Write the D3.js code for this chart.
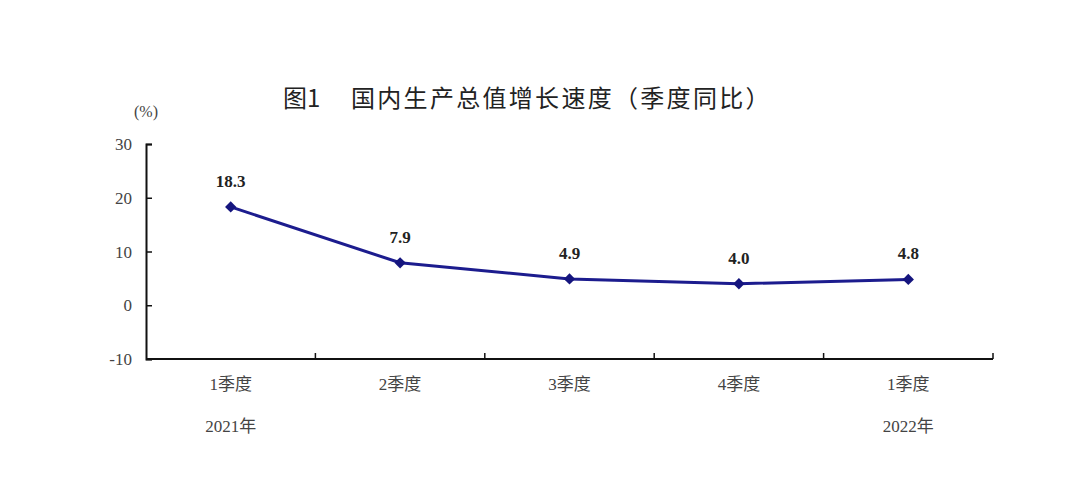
<!DOCTYPE html>
<html>
<head>
<meta charset="utf-8">
<script src="https://cdn.jsdelivr.net/npm/d3@7"></script>
<style>
body { margin: 0; background: #fff; }
</style>
</head>
<body>
<div id="chart"></div>
<script>
var categories = ["1季度", "2季度", "3季度", "4季度", "1季度"];
var years = ["2021年", "", "", "", "2022年"];
var values = [18.3, 7.9, 4.9, 4.0, 4.8];
var yTicks = [-10, 0, 10, 20, 30];

var margin = {top: 144, right: 87, bottom: 120, left: 146},
    width = 1080 - margin.left - margin.right,
    height = 479 - margin.top - margin.bottom;

var serif = "'Liberation Serif', 'Times New Roman', 'Noto Sans CJK SC', serif";
var sans = "'Noto Sans CJK SC', sans-serif";

var root = d3.select("#chart")
    .append("svg")
    .attr("width", 1080)
    .attr("height", 479);

// title in two pieces, like the original spacing
root.append("text")
    .attr("x", 283)
    .attr("y", 107)
    .attr("font-family", sans)
    .attr("font-size", 24)
    .attr("fill", "#222")
    .text("图1");
root.append("text")
    .attr("x", 351)
    .attr("y", 107)
    .attr("font-family", sans)
    .attr("font-size", 24)
    .attr("letter-spacing", 2.3)
    .attr("fill", "#222")
    .text("国内生产总值增长速度（季度同比）");

root.append("text")
    .attr("x", 134)
    .attr("y", 117)
    .attr("font-family", serif)
    .attr("font-size", 16)
    .attr("fill", "#444")
    .text("(%)");

var svg = root.append("g")
    .attr("transform", "translate(" + margin.left + "," + margin.top + ")");

var x = d3.scaleBand()
    .domain(d3.range(categories.length))
    .range([0, width]);

var y = d3.scaleLinear()
    .domain([-10, 30])
    .range([height, 0]);

// y axis, ticks pointing inward
var yAxis = svg.append("g")
    .call(d3.axisRight(y).tickValues(yTicks).tickSize(6).tickFormat(""));
yAxis.select(".domain").attr("stroke", "#111").attr("stroke-width", 2);
yAxis.selectAll(".tick line").attr("stroke", "#111").attr("stroke-width", 1.5);

svg.selectAll(".ylab")
    .data(yTicks)
    .enter()
    .append("text")
    .attr("class", "ylab")
    .attr("x", -14)
    .attr("y", function(d) { return y(d) + 6; })
    .attr("text-anchor", "end")
    .attr("font-family", serif)
    .attr("font-size", 17)
    .attr("fill", "#444")
    .text(function(d) { return d; });

// x axis at the bottom, ticks at band boundaries
var bounds = d3.range(categories.length + 1).map(function(i) {
    return i < categories.length ? x(i) : width;
});
svg.append("line")
    .attr("x1", 0).attr("x2", width)
    .attr("y1", height).attr("y2", height)
    .attr("stroke", "#111").attr("stroke-width", 2);
svg.selectAll(".xtick")
    .data(bounds.slice(1))
    .enter()
    .append("line")
    .attr("class", "xtick")
    .attr("x1", function(d) { return d; })
    .attr("x2", function(d) { return d; })
    .attr("y1", height).attr("y2", height - 6)
    .attr("stroke", "#111").attr("stroke-width", 1.5);

svg.selectAll(".xlab")
    .data(categories)
    .enter()
    .append("text")
    .attr("class", "xlab")
    .attr("x", function(d, i) { return x(i) + x.bandwidth() / 2; })
    .attr("y", height + 31)
    .attr("text-anchor", "middle")
    .attr("font-family", serif)
    .attr("font-size", 17)
    .attr("fill", "#444")
    .text(function(d) { return d; });

svg.selectAll(".yearlab")
    .data(years)
    .enter()
    .append("text")
    .attr("class", "yearlab")
    .attr("x", function(d, i) { return x(i) + x.bandwidth() / 2; })
    .attr("y", height + 73)
    .attr("text-anchor", "middle")
    .attr("font-family", serif)
    .attr("font-size", 17)
    .attr("fill", "#444")
    .text(function(d) { return d; });

var line = d3.line()
    .x(function(d, i) { return x(i) + x.bandwidth() / 2; })
    .y(function(d) { return y(d); });

svg.append("path")
    .datum(values)
    .attr("fill", "none")
    .attr("stroke", "#1c1c8e")
    .attr("stroke-width", 3)
    .attr("d", line);

// diamonds: squares turned 45 degrees
svg.selectAll(".marker")
    .data(values)
    .enter()
    .append("path")
    .attr("class", "marker")
    .attr("d", d3.symbol().type(d3.symbolSquare).size(64))
    .attr("transform", function(d, i) {
        return "translate(" + (x(i) + x.bandwidth() / 2) + "," + y(d) + ") rotate(45)";
    })
    .attr("fill", "#15157e");

svg.selectAll(".vlab")
    .data(values)
    .enter()
    .append("text")
    .attr("class", "vlab")
    .attr("x", function(d, i) { return x(i) + x.bandwidth() / 2; })
    .attr("y", function(d) { return y(d) - 20; })
    .attr("text-anchor", "middle")
    .attr("font-family", serif)
    .attr("font-weight", "bold")
    .attr("font-size", 17)
    .attr("fill", "#222")
    .text(function(d) { return d.toFixed(1); });
</script>
</body>
</html>
